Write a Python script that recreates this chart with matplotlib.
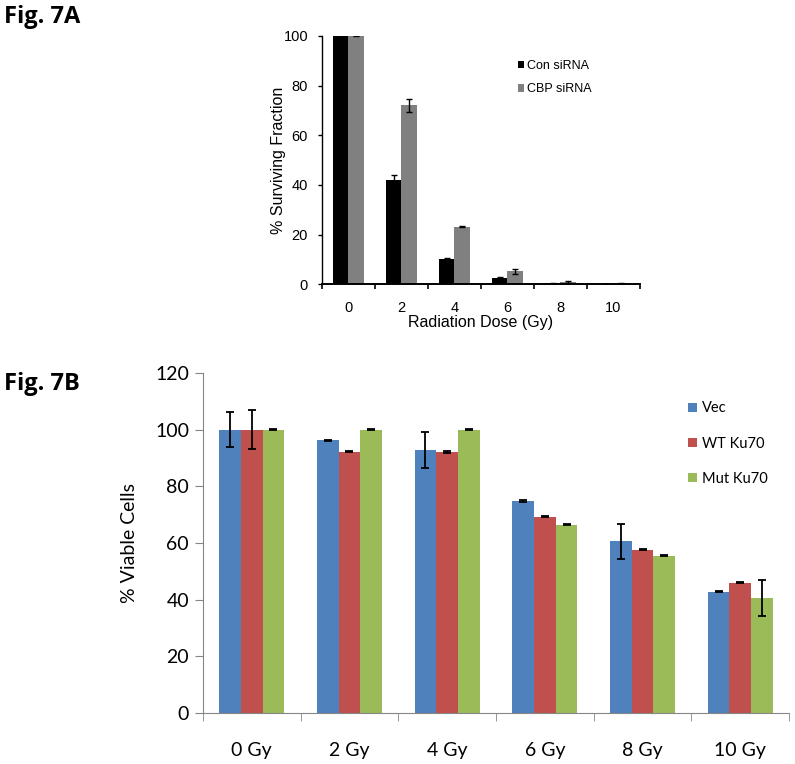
import numpy as np
import matplotlib
matplotlib.use("Agg")
import matplotlib.pyplot as plt
from matplotlib.ticker import FixedLocator, NullFormatter

# Fig. 7A data
doses_a = ["0", "2", "4", "6", "8", "10"]
con_sirna = [100, 41.9, 10.0, 2.3, 0.3, 0.1]
con_err = [0.2, 2.2, 0.7, 0.5, 0.1, 0.05]
cbp_sirna = [100, 72.0, 23.1, 5.2, 1.0, 0.2]
cbp_err = [0.2, 2.7, 0.2, 1.1, 0.4, 0.1]

# Fig. 7B data
doses_b = ["0 Gy", "2 Gy", "4 Gy", "6 Gy", "8 Gy", "10 Gy"]
vec = [100, 96.3, 92.7, 74.8, 60.6, 42.8]
vec_err = [6.2, 0.2, 6.3, 0.2, 6.2, 0.2]
wt_ku70 = [100, 92.2, 92.1, 69.2, 57.6, 46.0]
wt_err = [6.8, 0.2, 0.2, 0.2, 0.2, 0.2]
mut_ku70 = [100, 100, 100, 66.5, 55.5, 40.6]
mut_err = [0.2, 0.2, 0.2, 0.2, 0.2, 6.4]

fig = plt.figure(figsize=(7.95, 7.64), dpi=100)

fig.text(0.005, 0.9935, "Fig. 7A", fontsize=17, fontweight="bold",
         family="Open Sans", va="top", ha="left")
fig.text(0.005, 0.513, "Fig. 7B", fontsize=17, fontweight="bold",
         family="Open Sans", va="top", ha="left")

# ---- top chart
arial = "Liberation Sans"
ax1 = fig.add_axes([0.405, 0.628, 0.40, 0.325])
x = np.arange(len(doses_a))
w = 0.29
ax1.bar(x - w / 2, con_sirna, w, color="black", label="Con siRNA",
        yerr=con_err, error_kw=dict(ecolor="black", capsize=2.5, elinewidth=1))
ax1.bar(x + w / 2, cbp_sirna, w, color="#808080", label="CBP siRNA",
        yerr=cbp_err, error_kw=dict(ecolor="black", capsize=2.5, elinewidth=1))
ax1.set_xlim(-0.5, len(doses_a) - 0.5)
ax1.set_ylim(0, 100)
ax1.set_yticks([0, 20, 40, 60, 80, 100])
ax1.set_xticks(x)
ax1.set_xticklabels(doses_a, family=arial, fontsize=10.5)
for t in ax1.get_yticklabels():
    t.set_family(arial)
    t.set_fontsize(10.5)
ax1.xaxis.set_minor_locator(FixedLocator(np.arange(-0.5, len(doses_a), 1.0)))
ax1.xaxis.set_minor_formatter(NullFormatter())
ax1.tick_params(axis="x", which="major", length=0, pad=12)
ax1.tick_params(axis="x", which="minor", length=3.5, direction="out", width=1.2)
ax1.tick_params(axis="y", length=3, direction="out", width=1, pad=7)
for s in ["top", "right"]:
    ax1.spines[s].set_visible(False)
ax1.spines["left"].set_linewidth(1)
ax1.spines["bottom"].set_linewidth(1.4)
ax1.set_xlabel("Radiation Dose (Gy)", family=arial, fontsize=11.5, labelpad=0)
ax1.set_ylabel("% Surviving Fraction", family=arial, fontsize=11.5, labelpad=-2)
ax1.legend(loc="upper left", bbox_to_anchor=(0.58, 0.95), frameon=False,
           prop=dict(family=arial, size=9), handlelength=0.5, handleheight=0.5,
           handletextpad=0.25, labelspacing=0.95)

# ---- bottom chart
calibri = "Lato"
ax2 = fig.add_axes([0.2553, 0.0668, 0.7372, 0.445])
xb = np.arange(len(doses_b))
wb = 0.222
ekw = dict(ecolor="black", capsize=3, elinewidth=1.3, capthick=1.3)
ax2.bar(xb - wb, vec, wb, color="#4F81BD", label="Vec", yerr=vec_err, error_kw=ekw)
ax2.bar(xb, wt_ku70, wb, color="#C0504D", label="WT Ku70", yerr=wt_err, error_kw=ekw)
ax2.bar(xb + wb, mut_ku70, wb, color="#9BBB59", label="Mut Ku70", yerr=mut_err, error_kw=ekw)
ax2.set_xlim(-0.5, len(doses_b) - 0.5)
ax2.set_ylim(0, 120)
ax2.set_yticks(np.arange(0, 121, 20))
ax2.set_xticks(xb)
ax2.set_xticklabels(doses_b, family=calibri, fontsize=14)
for t in ax2.get_yticklabels():
    t.set_family(calibri)
    t.set_fontsize(14)
ax2.xaxis.set_minor_locator(FixedLocator(np.arange(-0.5, len(doses_b), 1.0)))
ax2.xaxis.set_minor_formatter(NullFormatter())
ax2.tick_params(axis="x", which="major", length=0, pad=21)
ax2.tick_params(axis="x", which="minor", length=6, direction="out", color="#868686")
ax2.tick_params(axis="y", length=6, direction="out", color="#868686", pad=4)
for s in ["top", "right"]:
    ax2.spines[s].set_visible(False)
for s in ["left", "bottom"]:
    ax2.spines[s].set_color("#868686")
ax2.set_ylabel("% Viable Cells", family=calibri, fontsize=14, labelpad=12)
ax2.legend(loc="upper left", bbox_to_anchor=(0.805, 0.955), frameon=False,
           prop=dict(family=calibri, size=10.5), handlelength=0.6, handleheight=0.6,
           handletextpad=0.35, labelspacing=1.45)

fig.savefig("out.png", dpi=100)
